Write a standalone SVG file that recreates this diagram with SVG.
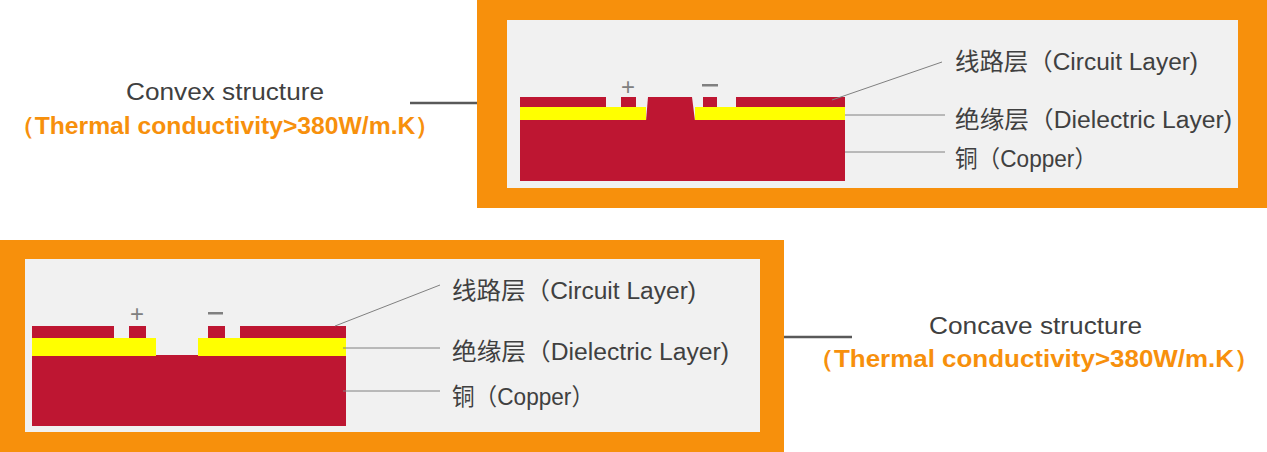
<svg xmlns="http://www.w3.org/2000/svg" width="1267" height="452" viewBox="0 0 1267 452">
<style>
.frame{fill:#f7900c}.panel{fill:#f1f1f1}.cu{fill:#be1632}.di{fill:#ffff00}
.lbl{font-family:"Liberation Sans","Noto Sans CJK SC",sans-serif;font-size:23.5px;fill:#404040}
.t{font-family:"Liberation Sans",sans-serif;font-size:24.5px;fill:#404040}
.o{font-family:"Liberation Sans",sans-serif;font-size:24px;font-weight:bold;fill:#f7900c}
.pm{font-family:"Liberation Sans",sans-serif;font-size:24px;fill:#808080}
.ln{stroke:#808080;stroke-width:1;fill:none}.cn{stroke:#595959;stroke-width:2.5}
</style>
<rect width="1267" height="452" fill="#fff"/>
<g id="convex">
<rect class="frame" x="477" y="0" width="790" height="208"/>
<rect class="panel" x="507" y="20" width="731" height="168"/>
<rect class="cu" x="520" y="120" width="325" height="61"/>
<rect class="di" x="520" y="107" width="126" height="13"/>
<rect class="di" x="695" y="107" width="150" height="13"/>
<rect class="cu" x="520" y="97" width="86" height="10"/>
<rect class="cu" x="621" y="97" width="15" height="10"/>
<rect class="cu" x="703" y="97" width="14" height="10"/>
<rect class="cu" x="736" y="97" width="109" height="10"/>
<polygon class="cu" points="648,97 692,97 695,121 646,121"/>
<text class="pm" x="628" y="95" text-anchor="middle">+</text>
<rect x="702" y="84" width="16" height="2.5" fill="#808080"/>
<text class="lbl" x="955" y="70" textLength="243" lengthAdjust="spacingAndGlyphs">线路层（Circuit Layer)</text>
<text class="lbl" x="955" y="128" textLength="277" lengthAdjust="spacingAndGlyphs">绝缘层（Dielectric Layer)</text>
<text class="lbl" x="955" y="167" textLength="142" lengthAdjust="spacingAndGlyphs">铜（Copper）</text>
</g>
<g id="convex-label">
<text class="t" x="126" y="100" textLength="198" lengthAdjust="spacingAndGlyphs">Convex structure</text>
<text class="o" x="10" y="134" textLength="430" lengthAdjust="spacingAndGlyphs">（Thermal conductivity&gt;380W/m.K）</text>
</g>
<g id="concave">
<rect class="frame" x="0" y="240" width="784" height="212"/>
<rect class="panel" x="25" y="259" width="735" height="173"/>
<rect class="cu" x="32" y="356" width="314" height="70"/>
<rect class="cu" x="156" y="355" width="42" height="2"/>
<rect class="di" x="32" y="338" width="124" height="18"/>
<rect class="di" x="198" y="338" width="148" height="18"/>
<rect class="cu" x="32" y="326" width="82" height="12"/>
<rect class="cu" x="129" y="326" width="17" height="12"/>
<rect class="cu" x="208" y="326" width="17" height="12"/>
<rect class="cu" x="240" y="326" width="106" height="12"/>
<text class="pm" x="137" y="322" text-anchor="middle">+</text>
<rect x="208" y="312" width="15" height="2.5" fill="#808080"/>
<text class="lbl" x="452" y="299" textLength="244" lengthAdjust="spacingAndGlyphs">线路层（Circuit Layer)</text>
<text class="lbl" x="452" y="360" textLength="277" lengthAdjust="spacingAndGlyphs">绝缘层（Dielectric Layer)</text>
<text class="lbl" x="452" y="405" textLength="142" lengthAdjust="spacingAndGlyphs">铜（Copper）</text>
</g>
<g id="concave-label">
<text class="t" x="929" y="334" textLength="213" lengthAdjust="spacingAndGlyphs">Concave structure</text>
<text class="o" x="808" y="367" textLength="452" lengthAdjust="spacingAndGlyphs">（Thermal conductivity&gt;380W/m.K）</text>
</g>
<g id="connectors">
<line class="ln" x1="832" y1="100" x2="942" y2="62"/>
<line class="ln" x1="845" y1="115" x2="945" y2="115"/>
<line class="ln" x1="845" y1="152" x2="945" y2="152"/>
<line class="ln" x1="335" y1="326" x2="440" y2="285"/>
<line class="ln" x1="343" y1="348" x2="440" y2="348"/>
<line class="ln" x1="343" y1="391" x2="440" y2="391"/>
<line class="cn" x1="410" y1="103" x2="477" y2="103"/>
<line class="cn" x1="784" y1="337" x2="852" y2="337"/>
</g>
</svg>
